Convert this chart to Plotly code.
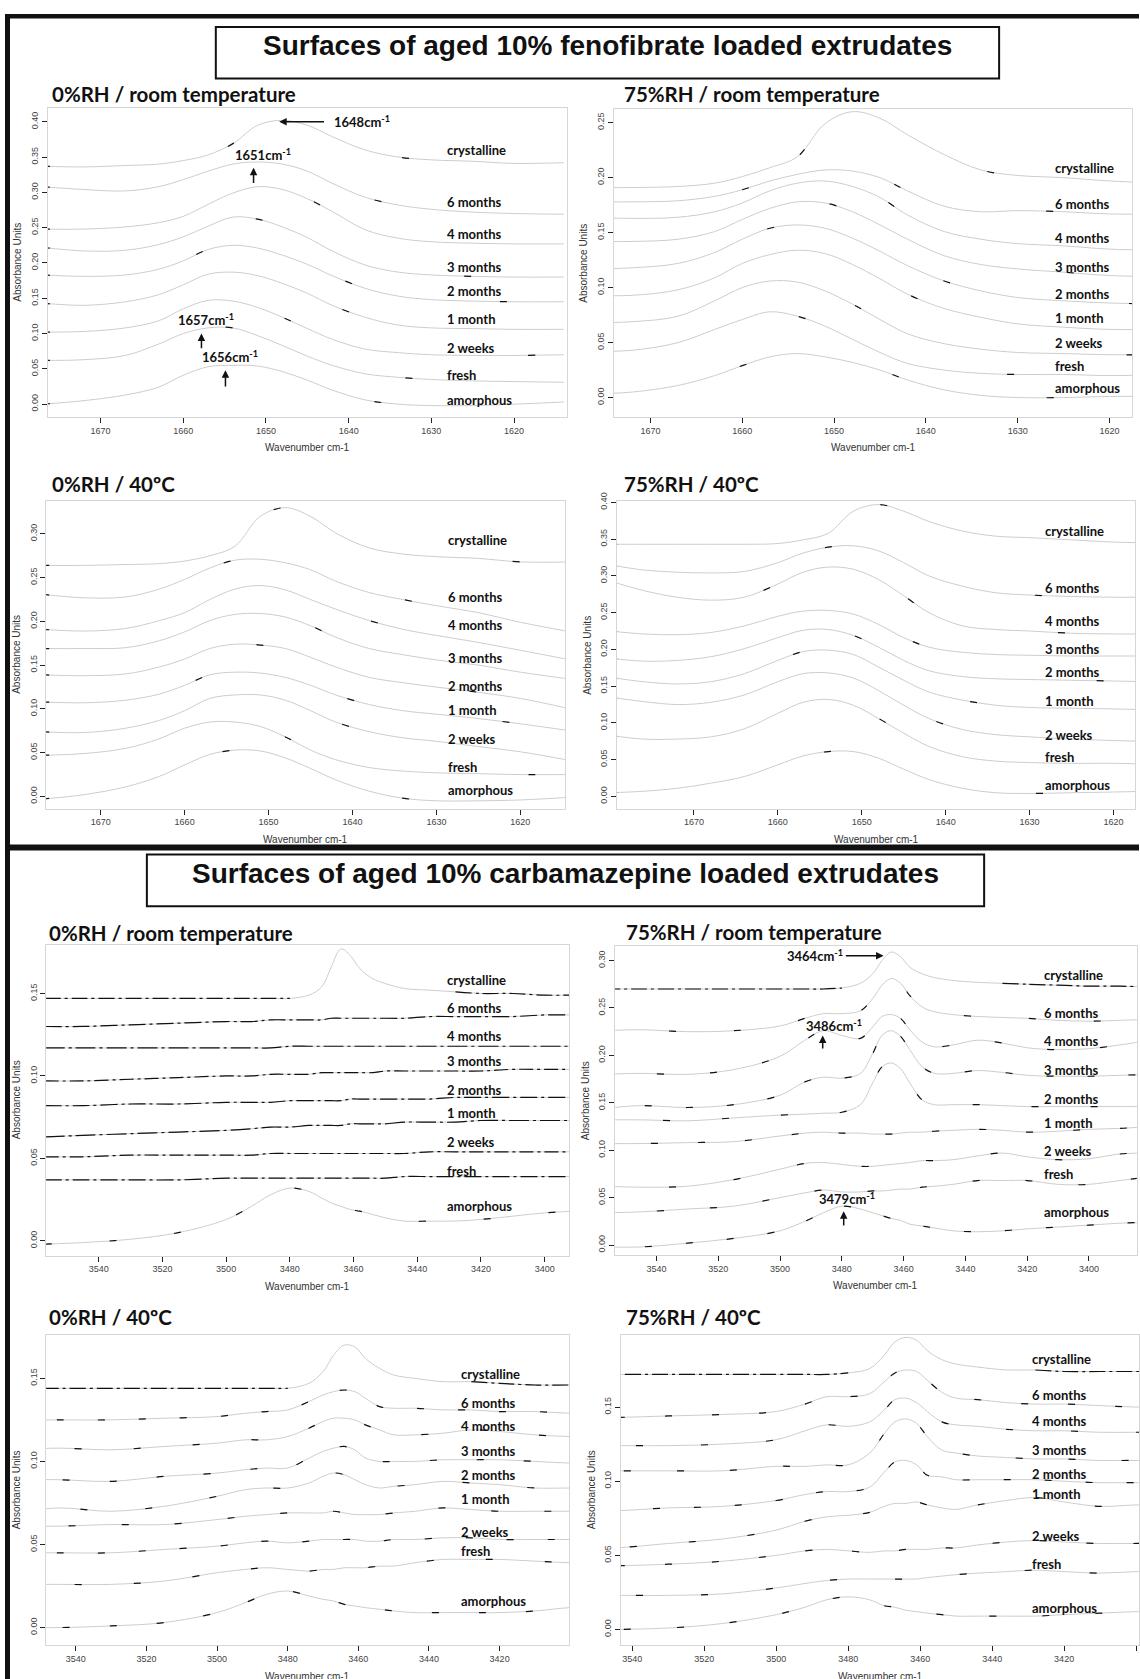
import plotly.graph_objects as go

W, H = 1140, 1679

SERIES = ["crystalline", "6 months", "4 months", "3 months", "2 months",
          "1 month", "2 weeks", "fresh", "amorphous"]

# ---------------- wavenumber grids ----------------
FEN_X = [1677, 1672, 1667, 1663, 1660, 1657, 1654, 1651, 1648, 1645, 1642,
         1638, 1634, 1630, 1625, 1620, 1614]
FEN_X4 = [1680, 1676, 1672, 1668, 1664, 1660, 1657, 1654, 1651, 1648, 1645,
          1642, 1638, 1634, 1630, 1625, 1620, 1616]
CBZ_X = [3557, 3545, 3530, 3515, 3500, 3492, 3486, 3480, 3474, 3470, 3467,
         3464, 3461, 3458, 3454, 3450, 3444, 3436, 3428, 3420, 3410, 3400,
         3390, 3380]

# ---------------- fenofibrate spectra (absorbance) ----------------
fen_rh0_rt = {
    "crystalline": [0.337, 0.336, 0.338, 0.340, 0.345, 0.353, 0.369, 0.395, 0.402, 0.395, 0.379, 0.360, 0.350, 0.346, 0.344, 0.341, 0.342],
    "6 months":    [0.308, 0.304, 0.302, 0.308, 0.318, 0.330, 0.340, 0.343, 0.340, 0.330, 0.313, 0.293, 0.282, 0.276, 0.272, 0.270, 0.269],
    "4 months":    [0.248, 0.248, 0.251, 0.257, 0.266, 0.283, 0.299, 0.308, 0.304, 0.291, 0.273, 0.247, 0.235, 0.230, 0.228, 0.227, 0.227],
    "3 months":    [0.222, 0.217, 0.218, 0.226, 0.237, 0.252, 0.265, 0.262, 0.251, 0.236, 0.217, 0.197, 0.187, 0.183, 0.181, 0.180, 0.180],
    "2 months":    [0.183, 0.181, 0.183, 0.191, 0.203, 0.219, 0.225, 0.221, 0.211, 0.198, 0.182, 0.164, 0.153, 0.148, 0.146, 0.145, 0.145],
    "1 month":     [0.143, 0.140, 0.145, 0.155, 0.169, 0.184, 0.187, 0.182, 0.171, 0.157, 0.140, 0.123, 0.112, 0.108, 0.107, 0.106, 0.106],
    "2 weeks":     [0.102, 0.103, 0.108, 0.118, 0.135, 0.147, 0.146, 0.137, 0.123, 0.107, 0.092, 0.078, 0.073, 0.070, 0.069, 0.069, 0.070],
    "fresh":       [0.062, 0.063, 0.069, 0.085, 0.100, 0.108, 0.108, 0.097, 0.083, 0.068, 0.055, 0.043, 0.038, 0.035, 0.033, 0.032, 0.031],
    "amorphous":   [0.000, 0.005, 0.013, 0.024, 0.041, 0.053, 0.055, 0.054, 0.046, 0.034, 0.020, 0.006, 0.000, -0.002, -0.002, 0.000, 0.003],
}
fen_rh75_rt = {
    "crystalline": [0.191, 0.191, 0.192, 0.195, 0.201, 0.209, 0.219, 0.249, 0.260, 0.254, 0.239, 0.221, 0.207, 0.202, 0.200, 0.197, 0.195],
    "6 months":    [0.178, 0.178, 0.179, 0.183, 0.189, 0.197, 0.203, 0.207, 0.206, 0.200, 0.188, 0.174, 0.169, 0.170, 0.169, 0.167, 0.167],
    "4 months":    [0.164, 0.163, 0.164, 0.169, 0.177, 0.188, 0.195, 0.197, 0.192, 0.182, 0.166, 0.151, 0.144, 0.140, 0.138, 0.135, 0.134],
    "3 months":    [0.142, 0.142, 0.144, 0.151, 0.162, 0.172, 0.178, 0.177, 0.169, 0.157, 0.144, 0.129, 0.121, 0.117, 0.114, 0.111, 0.110],
    "2 months":    [0.117, 0.118, 0.122, 0.132, 0.144, 0.154, 0.157, 0.154, 0.145, 0.133, 0.120, 0.106, 0.097, 0.091, 0.088, 0.086, 0.085],
    "1 month":     [0.093, 0.093, 0.098, 0.109, 0.122, 0.130, 0.134, 0.131, 0.121, 0.108, 0.094, 0.081, 0.073, 0.067, 0.064, 0.062, 0.062],
    "2 weeks":     [0.068, 0.069, 0.074, 0.088, 0.100, 0.106, 0.105, 0.097, 0.085, 0.071, 0.058, 0.049, 0.044, 0.041, 0.040, 0.039, 0.039],
    "fresh":       [0.042, 0.043, 0.050, 0.062, 0.071, 0.078, 0.074, 0.065, 0.053, 0.041, 0.031, 0.025, 0.022, 0.021, 0.021, 0.020, 0.021],
    "amorphous":   [0.003, 0.005, 0.011, 0.020, 0.029, 0.037, 0.040, 0.037, 0.032, 0.025, 0.016, 0.007, 0.002, 0.000, 0.000, 0.001, 0.001],
}
fen_rh0_40 = {
    "crystalline": [0.264, 0.264, 0.265, 0.266, 0.269, 0.275, 0.286, 0.320, 0.330, 0.320, 0.301, 0.284, 0.277, 0.274, 0.272, 0.268, 0.268],
    "6 months":    [0.231, 0.227, 0.228, 0.237, 0.248, 0.261, 0.270, 0.271, 0.267, 0.259, 0.246, 0.233, 0.225, 0.218, 0.210, 0.199, 0.188],
    "4 months":    [0.191, 0.189, 0.192, 0.201, 0.210, 0.225, 0.237, 0.241, 0.236, 0.225, 0.214, 0.201, 0.191, 0.184, 0.176, 0.167, 0.156],
    "3 months":    [0.169, 0.169, 0.170, 0.178, 0.188, 0.201, 0.208, 0.209, 0.205, 0.195, 0.182, 0.169, 0.162, 0.156, 0.150, 0.142, 0.134],
    "2 months":    [0.139, 0.138, 0.140, 0.148, 0.157, 0.169, 0.174, 0.173, 0.169, 0.159, 0.148, 0.136, 0.130, 0.125, 0.119, 0.112, 0.100],
    "1 month":     [0.108, 0.107, 0.110, 0.117, 0.127, 0.139, 0.142, 0.141, 0.136, 0.127, 0.116, 0.105, 0.098, 0.094, 0.089, 0.083, 0.075],
    "2 weeks":     [0.074, 0.073, 0.078, 0.087, 0.098, 0.112, 0.116, 0.116, 0.110, 0.098, 0.085, 0.074, 0.067, 0.063, 0.057, 0.051, 0.041],
    "fresh":       [0.047, 0.049, 0.055, 0.066, 0.078, 0.085, 0.085, 0.080, 0.068, 0.053, 0.042, 0.033, 0.029, 0.027, 0.026, 0.025, 0.025],
    "amorphous":   [-0.003, 0.002, 0.011, 0.023, 0.036, 0.048, 0.053, 0.052, 0.044, 0.032, 0.019, 0.006, -0.002, -0.005, -0.005, -0.004, -0.001],
}
fen_rh75_40 = {
    "crystalline": [0.343, 0.343, 0.343, 0.343, 0.343, 0.344, 0.349, 0.358, 0.388, 0.397, 0.388, 0.374, 0.361, 0.354, 0.352, 0.349, 0.346, 0.345],
    "6 months":    [0.315, 0.308, 0.305, 0.304, 0.306, 0.318, 0.331, 0.339, 0.341, 0.334, 0.318, 0.300, 0.286, 0.277, 0.274, 0.272, 0.271, 0.271],
    "4 months":    [0.293, 0.280, 0.271, 0.267, 0.271, 0.289, 0.305, 0.312, 0.309, 0.295, 0.273, 0.250, 0.232, 0.227, 0.225, 0.222, 0.221, 0.221],
    "3 months":    [0.225, 0.221, 0.220, 0.223, 0.232, 0.245, 0.252, 0.253, 0.248, 0.234, 0.216, 0.203, 0.196, 0.193, 0.192, 0.191, 0.191, 0.191],
    "2 months":    [0.188, 0.184, 0.185, 0.190, 0.201, 0.216, 0.226, 0.227, 0.219, 0.203, 0.185, 0.171, 0.163, 0.160, 0.159, 0.158, 0.157, 0.156],
    "1 month":     [0.162, 0.156, 0.153, 0.156, 0.167, 0.185, 0.197, 0.199, 0.193, 0.176, 0.158, 0.142, 0.131, 0.124, 0.121, 0.120, 0.119, 0.118],
    "2 weeks":     [0.135, 0.129, 0.125, 0.128, 0.138, 0.156, 0.167, 0.168, 0.161, 0.144, 0.124, 0.106, 0.091, 0.084, 0.081, 0.078, 0.076, 0.075],
    "fresh":       [0.083, 0.078, 0.078, 0.081, 0.092, 0.113, 0.128, 0.132, 0.124, 0.106, 0.086, 0.068, 0.054, 0.048, 0.046, 0.045, 0.045, 0.044],
    "amorphous":   [0.005, 0.007, 0.011, 0.018, 0.027, 0.043, 0.055, 0.061, 0.061, 0.052, 0.037, 0.023, 0.011, 0.005, 0.004, 0.005, 0.006, 0.007],
}

# ---------------- carbamazepine spectra (absorbance) ----------------
cbz_rh0_rt = {
    "crystalline": [0.147, 0.147, 0.147, 0.147, 0.147, 0.147, 0.147, 0.147, 0.149, 0.154, 0.166, 0.177, 0.173, 0.165, 0.159, 0.156, 0.153, 0.152, 0.151, 0.150, 0.150, 0.149, 0.149, 0.149],
    "6 months":    [0.130, 0.130, 0.131, 0.132, 0.133, 0.133, 0.134, 0.134, 0.134, 0.134, 0.135, 0.135, 0.135, 0.135, 0.135, 0.135, 0.135, 0.136, 0.136, 0.136, 0.136, 0.137, 0.137, 0.137],
    "4 months":    [0.117, 0.117, 0.117, 0.117, 0.117, 0.117, 0.117, 0.118, 0.118, 0.118, 0.118, 0.118, 0.118, 0.118, 0.118, 0.118, 0.118, 0.118, 0.118, 0.118, 0.118, 0.118, 0.118, 0.118],
    "3 months":    [0.097, 0.097, 0.098, 0.099, 0.100, 0.100, 0.101, 0.101, 0.101, 0.102, 0.102, 0.102, 0.102, 0.102, 0.102, 0.103, 0.103, 0.103, 0.103, 0.103, 0.104, 0.104, 0.104, 0.104],
    "2 months":    [0.082, 0.082, 0.083, 0.083, 0.084, 0.084, 0.084, 0.085, 0.085, 0.085, 0.085, 0.085, 0.086, 0.086, 0.086, 0.086, 0.086, 0.086, 0.087, 0.087, 0.087, 0.087, 0.087, 0.087],
    "1 month":     [0.063, 0.064, 0.065, 0.066, 0.067, 0.068, 0.069, 0.069, 0.070, 0.070, 0.070, 0.070, 0.071, 0.071, 0.071, 0.071, 0.072, 0.072, 0.072, 0.073, 0.073, 0.073, 0.073, 0.073],
    "2 weeks":     [0.051, 0.051, 0.052, 0.052, 0.052, 0.052, 0.053, 0.053, 0.053, 0.053, 0.053, 0.053, 0.053, 0.053, 0.053, 0.053, 0.053, 0.054, 0.054, 0.054, 0.054, 0.054, 0.054, 0.054],
    "fresh":       [0.037, 0.037, 0.037, 0.037, 0.038, 0.038, 0.038, 0.038, 0.038, 0.038, 0.038, 0.038, 0.038, 0.038, 0.038, 0.038, 0.039, 0.039, 0.039, 0.039, 0.039, 0.039, 0.039, 0.039],
    "amorphous":   [-0.002, -0.001, 0.001, 0.005, 0.013, 0.021, 0.028, 0.032, 0.030, 0.026, 0.023, 0.021, 0.019, 0.018, 0.016, 0.014, 0.012, 0.012, 0.012, 0.013, 0.015, 0.017, 0.018, 0.018],
}
cbz_rh75_rt = {
    "crystalline": [0.270, 0.270, 0.270, 0.270, 0.270, 0.270, 0.270, 0.271, 0.276, 0.286, 0.300, 0.309, 0.304, 0.293, 0.286, 0.282, 0.279, 0.277, 0.276, 0.275, 0.274, 0.273, 0.273, 0.272],
    "6 months":    [0.226, 0.227, 0.225, 0.226, 0.231, 0.239, 0.244, 0.244, 0.247, 0.260, 0.274, 0.281, 0.276, 0.263, 0.251, 0.246, 0.243, 0.241, 0.240, 0.239, 0.237, 0.236, 0.237, 0.238],
    "4 months":    [0.180, 0.181, 0.180, 0.185, 0.199, 0.216, 0.226, 0.221, 0.218, 0.230, 0.241, 0.243, 0.239, 0.227, 0.214, 0.209, 0.211, 0.216, 0.213, 0.208, 0.206, 0.207, 0.211, 0.216],
    "3 months":    [0.144, 0.147, 0.145, 0.148, 0.158, 0.172, 0.177, 0.176, 0.181, 0.202, 0.221, 0.226, 0.220, 0.206, 0.188, 0.181, 0.181, 0.184, 0.182, 0.179, 0.178, 0.178, 0.179, 0.180],
    "2 months":    [0.132, 0.132, 0.131, 0.134, 0.137, 0.138, 0.139, 0.140, 0.148, 0.171, 0.188, 0.192, 0.186, 0.171, 0.153, 0.148, 0.148, 0.148, 0.147, 0.146, 0.146, 0.146, 0.146, 0.146],
    "1 month":     [0.107, 0.107, 0.108, 0.109, 0.115, 0.118, 0.119, 0.118, 0.118, 0.117, 0.117, 0.117, 0.118, 0.119, 0.119, 0.120, 0.121, 0.122, 0.121, 0.119, 0.120, 0.122, 0.123, 0.125],
    "2 weeks":     [0.062, 0.061, 0.062, 0.069, 0.080, 0.086, 0.087, 0.085, 0.083, 0.083, 0.084, 0.085, 0.086, 0.087, 0.089, 0.089, 0.090, 0.094, 0.097, 0.093, 0.090, 0.091, 0.096, 0.097],
    "fresh":       [0.034, 0.035, 0.038, 0.041, 0.050, 0.055, 0.058, 0.056, 0.056, 0.057, 0.057, 0.058, 0.059, 0.059, 0.061, 0.062, 0.064, 0.068, 0.068, 0.068, 0.064, 0.064, 0.068, 0.072],
    "amorphous":   [-0.002, -0.002, 0.002, 0.007, 0.015, 0.025, 0.034, 0.041, 0.038, 0.034, 0.031, 0.028, 0.026, 0.022, 0.020, 0.018, 0.015, 0.014, 0.015, 0.017, 0.019, 0.021, 0.023, 0.024],
}
cbz_rh0_40 = {
    "crystalline": [0.144, 0.144, 0.144, 0.144, 0.144, 0.144, 0.144, 0.144, 0.147, 0.154, 0.164, 0.170, 0.169, 0.162, 0.156, 0.152, 0.150, 0.148, 0.148, 0.147, 0.146, 0.146, 0.146, 0.146],
    "6 months":    [0.125, 0.125, 0.125, 0.126, 0.127, 0.129, 0.130, 0.131, 0.136, 0.140, 0.142, 0.143, 0.142, 0.138, 0.133, 0.132, 0.132, 0.131, 0.131, 0.130, 0.130, 0.129, 0.129, 0.129],
    "4 months":    [0.107, 0.108, 0.107, 0.109, 0.111, 0.113, 0.113, 0.115, 0.120, 0.124, 0.126, 0.126, 0.125, 0.122, 0.119, 0.116, 0.116, 0.117, 0.119, 0.118, 0.116, 0.115, 0.115, 0.115],
    "3 months":    [0.089, 0.089, 0.088, 0.091, 0.093, 0.095, 0.096, 0.096, 0.102, 0.106, 0.108, 0.109, 0.107, 0.102, 0.100, 0.100, 0.100, 0.101, 0.101, 0.101, 0.100, 0.099, 0.099, 0.099],
    "2 months":    [0.069, 0.072, 0.070, 0.073, 0.079, 0.083, 0.084, 0.084, 0.087, 0.091, 0.093, 0.092, 0.089, 0.086, 0.084, 0.085, 0.086, 0.088, 0.087, 0.086, 0.084, 0.084, 0.084, 0.084],
    "1 month":     [0.061, 0.061, 0.062, 0.062, 0.065, 0.067, 0.068, 0.069, 0.069, 0.069, 0.070, 0.069, 0.068, 0.068, 0.068, 0.069, 0.070, 0.072, 0.071, 0.070, 0.070, 0.070, 0.070, 0.070],
    "2 weeks":     [0.045, 0.045, 0.045, 0.047, 0.049, 0.051, 0.052, 0.051, 0.052, 0.053, 0.053, 0.053, 0.053, 0.052, 0.052, 0.053, 0.053, 0.054, 0.054, 0.053, 0.053, 0.053, 0.053, 0.053],
    "fresh":       [0.026, 0.026, 0.026, 0.028, 0.033, 0.035, 0.036, 0.035, 0.034, 0.035, 0.035, 0.036, 0.036, 0.036, 0.037, 0.037, 0.039, 0.041, 0.041, 0.041, 0.040, 0.039, 0.039, 0.039],
    "amorphous":   [0.000, 0.000, 0.001, 0.003, 0.009, 0.015, 0.020, 0.022, 0.019, 0.017, 0.016, 0.014, 0.013, 0.012, 0.011, 0.010, 0.009, 0.009, 0.009, 0.009, 0.010, 0.012, 0.012, 0.012],
}
cbz_rh75_40 = {
    "crystalline": [0.172, 0.172, 0.172, 0.172, 0.172, 0.172, 0.172, 0.173, 0.176, 0.185, 0.194, 0.197, 0.195, 0.188, 0.182, 0.179, 0.177, 0.175, 0.175, 0.174, 0.174, 0.174, 0.174, 0.174],
    "6 months":    [0.143, 0.143, 0.144, 0.145, 0.147, 0.152, 0.157, 0.157, 0.159, 0.167, 0.173, 0.175, 0.174, 0.168, 0.160, 0.156, 0.155, 0.153, 0.152, 0.152, 0.151, 0.150, 0.150, 0.150],
    "4 months":    [0.124, 0.124, 0.124, 0.125, 0.128, 0.134, 0.138, 0.137, 0.140, 0.148, 0.155, 0.156, 0.153, 0.147, 0.140, 0.138, 0.137, 0.135, 0.134, 0.134, 0.133, 0.133, 0.133, 0.133],
    "3 months":    [0.107, 0.107, 0.107, 0.107, 0.110, 0.110, 0.111, 0.111, 0.119, 0.132, 0.140, 0.142, 0.139, 0.130, 0.121, 0.119, 0.117, 0.116, 0.115, 0.115, 0.114, 0.114, 0.114, 0.114],
    "2 months":    [0.080, 0.080, 0.082, 0.083, 0.087, 0.091, 0.093, 0.093, 0.096, 0.106, 0.113, 0.114, 0.111, 0.104, 0.103, 0.101, 0.101, 0.101, 0.101, 0.100, 0.099, 0.099, 0.099, 0.099],
    "1 month":     [0.055, 0.055, 0.058, 0.061, 0.067, 0.073, 0.076, 0.077, 0.079, 0.083, 0.085, 0.085, 0.086, 0.084, 0.082, 0.081, 0.084, 0.087, 0.089, 0.086, 0.083, 0.084, 0.084, 0.084],
    "2 weeks":     [0.043, 0.043, 0.044, 0.046, 0.050, 0.053, 0.054, 0.053, 0.052, 0.053, 0.053, 0.054, 0.054, 0.054, 0.055, 0.055, 0.057, 0.059, 0.060, 0.059, 0.058, 0.058, 0.058, 0.058],
    "fresh":       [0.023, 0.023, 0.023, 0.024, 0.028, 0.031, 0.033, 0.034, 0.034, 0.034, 0.034, 0.034, 0.034, 0.035, 0.036, 0.037, 0.038, 0.039, 0.040, 0.039, 0.038, 0.039, 0.039, 0.039],
    "amorphous":   [0.000, 0.000, 0.001, 0.004, 0.010, 0.015, 0.020, 0.022, 0.020, 0.016, 0.015, 0.013, 0.012, 0.011, 0.010, 0.009, 0.009, 0.009, 0.009, 0.010, 0.011, 0.012, 0.012, 0.012],
}

# label anchor heights (absorbance) for the series names, per panel
LABEL_Y = {
    1: [0.360, 0.287, 0.241, 0.194, 0.160, 0.121, 0.080, 0.041, 0.0066],
    2: [0.209, 0.176, 0.145, 0.119, 0.094, 0.072, 0.050, 0.029, 0.009],
    3: [0.293, 0.228, 0.196, 0.158, 0.126, 0.099, 0.066, 0.034, 0.0076],
    4: [0.361, 0.284, 0.238, 0.201, 0.169, 0.130, 0.084, 0.053, 0.016],
    5: [0.158, 0.141, 0.124, 0.109, 0.0915, 0.0774, 0.060, 0.0426, 0.0211],
    6: [0.285, 0.2448, 0.215, 0.1846, 0.154, 0.1287, 0.099, 0.0745, 0.0353],
    7: [0.1524, 0.1354, 0.1211, 0.1065, 0.0921, 0.0772, 0.0578, 0.0459, 0.0158],
    8: [0.1826, 0.1583, 0.1406, 0.1208, 0.1051, 0.0916, 0.0631, 0.044, 0.0148],
}

# ---------------- layout of the eight panels (pixel boxes) ----------------
PANELS = [
    dict(data=fen_rh0_rt, x=FEN_X, box=(48.1, 100, 567.9, 410), xr=(1676.35, 1613.55), yr=(-0.0179, 0.4188),
         dtx=10, title="0%RH / room temperature", tpos=(50, 85), labx=1628.3, overlay="rare"),
    dict(data=fen_rh75_rt, x=FEN_X, box=(614.3, 100.7, 1133.4, 410), xr=(1674.0, 1617.5), yr=(-0.0175, 0.2623),
         dtx=10, title="75%RH / room temperature", tpos=(622.7, 85), labx=1626.1, overlay="rare"),
    dict(data=fen_rh0_40, x=FEN_X, box=(46.2, 494.3, 565.3, 804), xr=(1676.5, 1614.7), yr=(-0.014, 0.338),
         dtx=10, title="0%RH / 40ºC", tpos=(50, 478), labx=1628.9, overlay="rare"),
    dict(data=fen_rh75_40, x=FEN_X4, box=(617.3, 495, 1136.3, 804), xr=(1679.2, 1617.4), yr=(-0.0167, 0.4014),
         dtx=10, title="75%RH / 40ºC", tpos=(622.7, 478), labx=1628.4, overlay="rare"),
    dict(data=cbz_rh0_rt, x=CBZ_X, box=(46.2, 940.7, 569.7, 1253.3), xr=(3556.5, 3392.3), yr=(-0.0089, 0.1796),
         dtx=20, title="0%RH / room temperature", tpos=(47.4, 929), labx=3431.2, overlay="dense"),
    dict(data=cbz_rh75_rt, x=CBZ_X, box=(615.4, 941.7, 1137.8, 1252.7), xr=(3553.5, 3384.5), yr=(-0.0105, 0.3157),
         dtx=20, title="75%RH / room temperature", tpos=(624.5, 928), labx=3415.3, overlay="sparse"),
    dict(data=cbz_rh0_40, x=CBZ_X, box=(46.2, 1333.3, 569.7, 1645), xr=(3548.4, 3400.3), yr=(-0.0106, 0.176),
         dtx=20, title="0%RH / 40ºC", tpos=(47.4, 1315), labx=3431.4, overlay="sparse"),
    dict(data=cbz_rh75_40, x=CBZ_X, box=(621.6, 1333.3, 1140, 1645), xr=(3543.1, 3399.2), yr=(-0.0106, 0.1985),
         dtx=20, title="75%RH / 40ºC", tpos=(624.5, 1315), labx=3429.5, overlay="sparse"),
]

# peak annotations: (panel, text, text_x, text_y, arrow_tail_x, arrow_tail_y, arrow_head_x, arrow_head_y, text_anchor)
PEAK_NOTES = [
    (1, "1648cm<sup>-1</sup>", 1642.0, 0.400, 1642.8, 0.400, 1648.4, 0.400, "left"),
    (1, "1651cm<sup>-1</sup>", 1650.3, 0.354, 1651.5, 0.311, 1651.5, 0.335, "center"),
    (1, "1657cm<sup>-1</sup>", 1657.3, 0.120, 1657.8, 0.077, 1657.8, 0.100, "center"),
    (1, "1656cm<sup>-1</sup>", 1654.4, 0.068, 1654.9, 0.023, 1654.9, 0.048, "center"),
    (6, "3464cm<sup>-1</sup>", 3488.8, 0.305, 3479.2, 0.305, 3466.5, 0.305, "center"),
    (6, "3486cm<sup>-1</sup>", 3482.7, 0.232, 3486.2, 0.2056, 3486.2, 0.221, "center"),
    (6, "3479cm<sup>-1</sup>", 3478.2, 0.0495, 3479.4, 0.019, 3479.4, 0.0355, "center"),
]

CURVE = "#cdcdcd"
INK = "#111111"
LABEL_FONT = dict(family="Lato", size=13, color=INK, weight="bold")
TICK_FONT = dict(family="Liberation Sans", size=9, color="#444444")


def pxx(x):
    return x / W


def pxy(y):
    return 1 - y / H


fig = go.Figure()
annotations = []
shapes = []

for i, p in enumerate(PANELS, start=1):
    xn = "x" if i == 1 else f"x{i}"
    yn = "y" if i == 1 else f"y{i}"
    L, T, R, B = p["box"]
    xs = p["x"]
    for k, name in enumerate(SERIES):
        ys = p["data"][name]
        fig.add_trace(go.Scatter(x=xs, y=ys, mode="lines", xaxis=xn, yaxis=yn,
                                 line=dict(color=CURVE, width=1, shape="spline", smoothing=1.0),
                                 showlegend=False, hoverinfo="skip"))
        # dark dash artefacts from the scanned original
        mode_o = p["overlay"]
        if mode_o == "rare":
            yo = ys
            dash = f"7px,{150 + 31 * ((k * 5 + i) % 7)}px"
        elif name == "crystalline":
            yo = [v if (xv >= 3477 or xv <= 3430) else None for xv, v in zip(xs, ys)]
            dash = "16px,4px,3px,4px"
        elif mode_o == "dense" and name != "amorphous":
            yo = ys
            dash = f"{14 + (k % 3) * 3}px,4px,3px,4px"
        else:
            yo = ys
            dash = f"7px,{34 + 6 * ((k * 3 + i) % 5)}px"
        fig.add_trace(go.Scatter(x=xs, y=yo, mode="lines", xaxis=xn, yaxis=yn,
                                 line=dict(color=INK, width=1.2, shape="spline", smoothing=1.0, dash=dash),
                                 showlegend=False, hoverinfo="skip", connectgaps=False))
        annotations.append(dict(x=p["labx"], y=LABEL_Y[i][k], xref=xn, yref=yn, text=name,
                                showarrow=False, xanchor="left", yanchor="middle", font=LABEL_FONT))

    axis_common = dict(showgrid=False, zeroline=False, showline=True, mirror=True,
                       linecolor="#d6d6d6", linewidth=1, ticks="outside", ticklen=5,
                       tickwidth=1, tickcolor="#222222", tickfont=TICK_FONT)
    fig.layout[("xaxis" if i == 1 else f"xaxis{i}")] = dict(
        domain=[pxx(L), min(pxx(R), 1.0)], range=list(p["xr"]), anchor=yn,
        tickmode="linear", tick0=0, dtick=p["dtx"], **axis_common)
    fig.layout[("yaxis" if i == 1 else f"yaxis{i}")] = dict(
        domain=[pxy(B), pxy(T)], range=list(p["yr"]), anchor=xn,
        tickmode="linear", tick0=0, dtick=0.05, tickformat=".2f", tickangle=-90, **axis_common)

    # panel heading
    annotations.append(dict(x=pxx(p["tpos"][0]), y=pxy(p["tpos"][1]), xref="paper", yref="paper",
                            text=p["title"], showarrow=False, xanchor="left", yanchor="middle",
                            font=dict(family="Lato", size=20.5, color=INK, weight="bold")))
    # axis titles
    annotations.append(dict(x=pxx(L - 30), y=pxy((T + B) / 2), xref="paper", yref="paper",
                            text="Absorbance Units", textangle=-90, showarrow=False,
                            xanchor="center", yanchor="middle",
                            font=dict(family="Liberation Sans", size=10, color="#333333")))
    annotations.append(dict(x=pxx((L + min(R, 1140)) / 2), y=pxy(B + 31), xref="paper", yref="paper",
                            text="Wavenumber cm-1", showarrow=False, xanchor="center", yanchor="middle",
                            font=dict(family="Liberation Sans", size=10, color="#333333")))

for (pi, txt, tx, ty, ax_, ay_, hx, hy, anc) in PEAK_NOTES:
    xn = "x" if pi == 1 else f"x{pi}"
    yn = "y" if pi == 1 else f"y{pi}"
    annotations.append(dict(x=tx, y=ty, xref=xn, yref=yn, text=txt, showarrow=False,
                            xanchor=anc, yanchor="middle", font=LABEL_FONT))
    annotations.append(dict(x=hx, y=hy, ax=ax_, ay=ay_, xref=xn, yref=yn, axref=xn, ayref=yn,
                            text="", showarrow=True, arrowhead=2, arrowsize=1, arrowwidth=1.5,
                            arrowcolor=INK))

# section titles
SECTION_TITLES = [
    ("Surfaces of aged 10% fenofibrate loaded extrudates", (216, 18, 1000, 70)),
    ("Surfaces of aged 10% carbamazepine loaded extrudates", (147, 850, 985, 902)),
]
for txt, (x0, y0, x1, y1) in SECTION_TITLES:
    shapes.append(dict(type="rect", xref="paper", yref="paper", x0=pxx(x0), x1=pxx(x1),
                       y0=pxy(y1), y1=pxy(y0), line=dict(color=INK, width=2)))
    annotations.append(dict(x=pxx((x0 + x1) / 2), y=pxy((y0 + y1) / 2 - 7), xref="paper", yref="paper",
                            text=txt, showarrow=False, xanchor="center", yanchor="middle",
                            font=dict(family="Liberation Sans", size=28, color=INK, weight="bold")))

# outer frame of the scanned figure
for (x0, y0, x1, y1) in [(5, 5, 10, 1679), (5, 5, 1140, 9.5), (5, 840, 1140, 846)]:
    shapes.append(dict(type="rect", xref="paper", yref="paper", x0=pxx(x0), x1=pxx(x1),
                       y0=pxy(y1), y1=pxy(y0), line=dict(width=0), fillcolor=INK))

fig.update_layout(width=W, height=H, margin=dict(l=0, r=0, t=0, b=0),
                  paper_bgcolor="white", plot_bgcolor="white",
                  annotations=annotations, shapes=shapes, showlegend=False)

PAGE_FIX = ("document.documentElement.style.margin='0px';"
            "document.body.style.margin='0px';document.body.style.padding='0px';"
            "document.body.style.overflow='hidden';"
            "var g=document.querySelector('.plotly-graph-div');"
            "if(g){g.style.position='absolute';g.style.top='0px';g.style.left='0px';}")

fig.write_html("out.html", config={"displayModeBar": False}, post_script=PAGE_FIX)
